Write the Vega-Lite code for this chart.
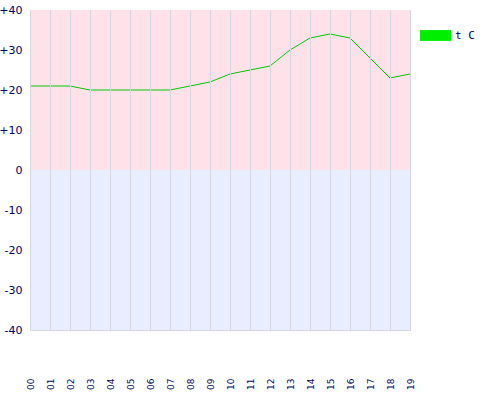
{
  "$schema": "https://vega.github.io/schema/vega-lite/v6.json",
  "width": 380,
  "height": 320,
  "autosize": {"type": "none"},
  "padding": {"left": 30, "top": 10, "right": 70, "bottom": 70},
  "background": "white",
  "config": {
    "view": {"stroke": null},
    "axisY": {
      "title": null, "domain": false, "ticks": false, "zindex": 1,
      "values": [-40, -30, -20, -10, 0, 10, 20, 30, 40],
      "tickCount": 9,
      "labelOverlap": false,
      "grid": true, "gridColor": "#d6d6de", "gridWidth": 1,
      "labelPadding": 8, "labelFont": "DejaVu Sans", "labelFontSize": 11,
      "labelColor": "#000066"
    }
  },
  "layer": [
    {
      "data": {"values": [
        {"zone": "positive", "lo": 0, "hi": 40},
        {"zone": "negative", "lo": -40, "hi": 0}
      ]},
      "mark": {"type": "rect"},
      "encoding": {
        "y": {
          "field": "lo", "type": "quantitative",
          "scale": {"domain": [-40, 40], "nice": false, "zero": false},
          "axis": {
            "values": [-40, -30, -20, -10, 0, 10, 20, 30, 40],
            "labelExpr": "datum.value > 0 ? '+' + datum.value : '' + datum.value"
          }
        },
        "y2": {"field": "hi"},
        "fill": {"field": "zone", "type": "nominal", "scale": {"domain": ["positive", "negative"], "range": ["#ffe1ea", "#e8eeff"]}, "legend": null}
      }
    },
    {
      "data": {"values": [
        {"hour": "00", "temp": 21, "series": "t C"},
        {"hour": "01", "temp": 21, "series": "t C"},
        {"hour": "02", "temp": 21, "series": "t C"},
        {"hour": "03", "temp": 20, "series": "t C"},
        {"hour": "04", "temp": 20, "series": "t C"},
        {"hour": "05", "temp": 20, "series": "t C"},
        {"hour": "06", "temp": 20, "series": "t C"},
        {"hour": "07", "temp": 20, "series": "t C"},
        {"hour": "08", "temp": 21, "series": "t C"},
        {"hour": "09", "temp": 22, "series": "t C"},
        {"hour": "10", "temp": 24, "series": "t C"},
        {"hour": "11", "temp": 25, "series": "t C"},
        {"hour": "12", "temp": 26, "series": "t C"},
        {"hour": "13", "temp": 30, "series": "t C"},
        {"hour": "14", "temp": 33, "series": "t C"},
        {"hour": "15", "temp": 34, "series": "t C"},
        {"hour": "16", "temp": 33, "series": "t C"},
        {"hour": "17", "temp": 28, "series": "t C"},
        {"hour": "18", "temp": 23, "series": "t C"},
        {"hour": "19", "temp": 24, "series": "t C"}
      ]},
      "mark": {"type": "line", "strokeWidth": 1},
      "encoding": {
        "x": {
          "field": "hour", "type": "ordinal",
          "scale": {"type": "point", "padding": 0},
          "axis": {
            "title": null, "domain": false, "ticks": false, "zindex": 1,
            "labelOverlap": false,
            "grid": true, "gridColor": "#d6d6de", "gridWidth": 1,
            "labelAngle": -90, "labelAlign": "right", "labelBaseline": "middle",
            "labelPadding": 48, "labelFont": "DejaVu Sans", "labelFontSize": 9,
            "labelColor": "#000066"
          }
        },
        "y": {
          "field": "temp", "type": "quantitative",
          "axis": {
            "values": [-40, -30, -20, -10, 0, 10, 20, 30, 40],
            "labelExpr": "datum.value > 0 ? '+' + datum.value : '' + datum.value"
          }
        },
        "color": {
          "field": "series", "type": "nominal",
          "scale": {"range": ["#00cc00"]},
          "legend": {
            "title": null, "orient": "none", "legendX": 390, "legendY": 10, "padding": 0,
            "symbolType": "M-1,-0.35H1V0.35H-1Z", "symbolSize": 961,
            "symbolFillColor": "#00ee00", "symbolStrokeWidth": 0, "symbolOpacity": 1,
            "labelFont": "DejaVu Sans Mono", "labelFontSize": 11, "labelColor": "#000066",
            "labelOffset": 4
          }
        }
      }
    }
  ]
}
